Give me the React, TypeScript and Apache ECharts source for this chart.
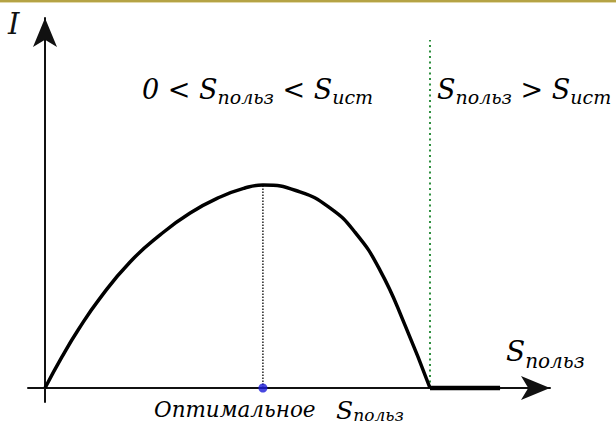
import React, { useEffect, useRef } from "react";
import * as echarts from "echarts";

// Curve I(S_польз) (S_ист = 10, peak I = 10)
const curveS = [0, 0.44, 0.86, 1.43, 2.21, 2.99, 3.77, 4.55, 5.19, 5.66, 6.62, 7.4, 8.05, 8.7, 9.35, 10];
const curveI = [0, 1.53, 2.86, 4.43, 6.21, 7.54, 8.62, 9.41, 9.85, 10, 9.66, 8.87, 7.68, 5.81, 3.1, 0];
// Zero segment for S_польз > S_ист
const flatS = [10, 11.82];
const flatI = [0, 0];
// Optimum and source boundary
const optimalS = [5.66];
const optimalI = [10];
const sourceS = [10];
const sourceTop = [17.14];

const SERIF = "DejaVu Serif";

export default function App() {
  const ref = useRef<HTMLDivElement>(null);
  useEffect(() => {
    if (!ref.current) return;
    const chart = echarts.init(ref.current, undefined, { renderer: "svg" });
    const curve = curveS.map((s, i) => [s, curveI[i]]);
    const flat = flatS.map((s, i) => [s, flatI[i]]);
    const axisCommon = {
      type: "value" as const,
      axisTick: { show: false },
      axisLabel: { show: false },
      splitLine: { show: false },
      axisLine: {
        show: true,
        onZero: true,
        symbol: ["none", "arrow"],
        symbolSize: [18, 29],
        lineStyle: { color: "#111", width: 2 },
      },
    };
    const m = { fontFamily: SERIF, fontStyle: "italic", fontSize: 27, lineHeight: 30, verticalAlign: "top", color: "#111" };
    const sub = { fontFamily: SERIF, fontStyle: "italic", fontSize: 19, verticalAlign: "top", color: "#111", padding: [11, 0, 0, 0] };
    const blue = "#2828cc";
    chart.setOption({
      animation: false,
      backgroundColor: "#ffffff",
      grid: { left: 28, right: 66, top: 18, bottom: 28, containLabel: false },
      xAxis: { ...axisCommon, min: -0.4416, max: 13.117 },
      yAxis: { ...axisCommon, min: -0.6897, max: 18.227 },
      series: [
        {
          type: "line",
          data: [[sourceS[0], 0], [sourceS[0], sourceTop[0]]],
          symbol: "none",
          lineStyle: { color: "#2f8f3f", width: 2, type: [2, 3.5] },
          z: 1,
        },
        {
          type: "line",
          data: [[optimalS[0], 0], [optimalS[0], optimalI[0]]],
          symbol: "none",
          lineStyle: { color: "#222", width: 1.5, type: [1.5, 1.5] },
          z: 2,
        },
        {
          type: "line",
          data: curve,
          smooth: 0.5,
          symbol: "none",
          lineStyle: { color: "#000", width: 3.5 },
          z: 3,
        },
        {
          type: "line",
          data: flat,
          symbol: "none",
          lineStyle: { color: "#000", width: 4.5 },
          z: 3,
        },
        {
          type: "scatter",
          data: [[optimalS[0], 0]],
          symbolSize: 9,
          itemStyle: { color: "#1a1ad8" },
          z: 4,
        },
      ],
      graphic: [
        { type: "rect", shape: { x: 0, y: 0, width: 616, height: 2 }, style: { fill: "#b5a345" } },
        { type: "rect", shape: { x: 0, y: 2, width: 616, height: 1 }, style: { fill: "#e2d9ab" } },
        {
          type: "text",
          x: 8,
          y: 9,
          style: { text: "I", fontFamily: SERIF, fontStyle: "italic", fontSize: 29, fill: "#111", align: "left", verticalAlign: "top" },
        },
        {
          type: "text",
          x: 142,
          y: 76,
          style: {
            text: "{m|0 < S}{s|польз}{m|\u00a0<\u00a0S}{s|ист}",
            rich: { m, s: sub },
            align: "left",
            verticalAlign: "top",
          },
        },
        {
          type: "text",
          x: 437,
          y: 76,
          style: {
            text: "{m|S}{s|польз}{m|\u00a0>\u00a0S}{s|ист}",
            rich: { m, s: sub },
            align: "left",
            verticalAlign: "top",
          },
        },
        {
          type: "text",
          x: 506,
          y: 337,
          style: {
            text: "{m|S}{s|польз}",
            rich: { m: { ...m, fontSize: 28 }, s: { ...sub, fontSize: 20, padding: [14, 0, 0, 0] } },
            align: "left",
            verticalAlign: "top",
          },
        },
        {
          type: "text",
          x: 154,
          y: 398,
          style: {
            text: "{a|Оптимальное\u00a0\u00a0\u00a0}{b|S}{c|польз}",
            rich: {
              a: { fontFamily: SERIF, fontStyle: "italic", fontSize: 21.5, lineHeight: 28, verticalAlign: "top", color: blue },
              b: { fontFamily: SERIF, fontStyle: "italic", fontSize: 25, lineHeight: 28, verticalAlign: "top", color: blue },
              c: { fontFamily: SERIF, fontStyle: "italic", fontSize: 17, verticalAlign: "top", color: blue, padding: [8, 0, 0, 0] },
            },
            align: "left",
            verticalAlign: "top",
          },
        },
      ],
    });
    return () => chart.dispose();
  }, []);
  return (
    <div
      ref={ref}
      style={{ position: "fixed", left: 0, top: 0, width: 616, height: 430, background: "#fff" }}
    />
  );
}
